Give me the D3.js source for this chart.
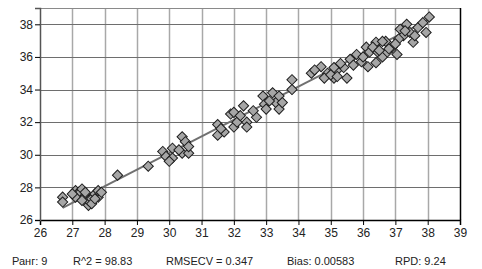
<!DOCTYPE html>
<html>
<head>
<meta charset="utf-8">
<script src="https://cdn.jsdelivr.net/npm/d3@7"></script>
<style>
  body { margin: 0; background: #fff; }
  svg { display: block; font-family: "Liberation Sans", Arial, sans-serif; }
</style>
</head>
<body>
<div id="chart"></div>
<script>
const measured = [
  26.7, 26.7, 27.1, 27.2, 27.2, 27.3, 27.1, 27.4, 27.5, 27.5, 27.6, 27.7, 27.8, 27.8, 27.9, 27.3, 27.0, 27.6, 27.4, 27.7,
  28.4, 29.35,
  29.8, 29.9, 30.1, 30.1, 30.4, 30.5, 30.4, 30.6, 30.6, 30.0, 30.3,
  31.5, 31.5, 31.7, 31.9, 32.0, 32.1, 32.0, 32.3, 32.4, 32.4, 32.7, 32.9, 32.95, 33.0, 33.2, 33.3, 33.4, 33.4, 33.5, 31.6, 32.2, 32.6, 33.1,
  33.8, 33.8, 34.4, 34.7, 34.9, 35.1, 35.2, 34.8, 34.5, 35.0,
  35.1, 35.2, 35.5, 35.4, 35.8, 35.95, 36.1, 36.2, 36.15, 36.4, 36.45, 36.6, 36.7, 36.75, 36.9, 37.05, 37.15, 37.25, 37.35, 37.45,
  37.55, 37.7, 37.85, 38.05, 37.95, 37.1, 36.6, 36.4, 36.0, 35.6, 35.7, 36.3, 36.8, 37.0, 37.3, 37.6, 35.3, 36.5
];
const predicted = [
  27.4, 27.1, 27.8, 27.7, 27.6, 27.9, 27.4, 27.5, 26.9, 27.2, 27.3, 27.6, 27.4, 27.8, 27.7, 27.2, 27.6, 27.0, 27.7, 27.3,
  28.75, 29.3,
  30.2, 29.9, 30.4, 29.8, 31.1, 30.8, 30.1, 30.1, 30.5, 29.6, 30.3,
  31.85, 31.2, 31.4, 32.5, 31.7, 32.0, 32.6, 33.0, 32.0, 31.7, 32.3, 33.6, 33.1, 32.8, 33.8, 33.2, 32.8, 33.6, 33.2, 31.6, 32.4, 32.7, 33.3,
  34.6, 34.0, 35.0, 35.4, 35.0, 34.7, 35.2, 34.7, 35.2, 34.9,
  35.35, 34.8, 34.7, 35.35, 36.15, 35.7, 36.6, 36.3, 35.4, 36.9, 36.3, 36.0, 36.95, 36.3, 36.6, 36.15, 37.7, 37.3, 38.0, 37.5,
  36.9, 37.8, 38.1, 38.45, 37.5, 37.1, 36.95, 35.65, 36.0, 35.85, 35.5, 36.6, 36.5, 36.8, 37.6, 37.3, 35.6, 36.4
];

// regression line end points
const lineX = [26.7, 38.0];
const lineY = [26.75, 38.25];

const xTicks = d3.range(26, 40, 1);
const yTicks = [26, 28, 30, 32, 34, 36, 38];

const stats = [
  { text: 'Ранг: 9', x: 12 },
  { text: 'R^2 = 98.83', x: 73 },
  { text: 'RMSECV = 0.347', x: 166 },
  { text: 'Bias: 0.00583', x: 287 },
  { text: 'RPD: 9.24', x: 395 }
];

const width = 482, height = 269;
const margin = { top: 8, right: 22, bottom: 49, left: 40 };
const innerW = width - margin.left - margin.right;
const innerH = height - margin.top - margin.bottom;

const svg = d3.select('#chart').append('svg')
    .attr('width', width)
    .attr('height', height);

const chart = svg.append('g')
    .attr('transform', `translate(${margin.left},${margin.top})`);

const x = d3.scaleLinear().domain([26, 39]).range([0, innerW]);
const y = d3.scaleLinear().domain([26, 39]).range([innerH, 0]);

// vertical grid
chart.selectAll('.vgrid')
    .data(xTicks.filter(d => d > 26 && d < 39))
  .join('line')
    .attr('class', 'vgrid')
    .attr('x1', d => Math.round(x(d)) + 0.5)
    .attr('x2', d => Math.round(x(d)) + 0.5)
    .attr('y1', 0)
    .attr('y2', innerH)
    .attr('stroke', '#a8a8a8')
    .attr('stroke-width', 1.5);

// horizontal grid
chart.selectAll('.hgrid')
    .data(yTicks.filter(d => d > 26))
  .join('line')
    .attr('class', 'hgrid')
    .attr('x1', 0)
    .attr('x2', innerW)
    .attr('y1', d => Math.round(y(d)) + 0.5)
    .attr('y2', d => Math.round(y(d)) + 0.5)
    .attr('stroke', '#6e6e6e')
    .attr('stroke-width', 1);

// top border
chart.append('line')
    .attr('x1', 0).attr('x2', innerW)
    .attr('y1', 0.5).attr('y2', 0.5)
    .attr('stroke', '#8a8a8a');

// right border
chart.append('line')
    .attr('x1', innerW + 0.5).attr('x2', innerW + 0.5)
    .attr('y1', 0).attr('y2', innerH)
    .attr('stroke', '#000')
    .attr('stroke-width', 1.5);

// axes
const xAxis = d3.axisBottom(x).tickValues(xTicks).tickSize(5).tickFormat(d3.format('d'));
const yAxis = d3.axisLeft(y).tickValues(yTicks).tickSize(5).tickFormat(d3.format('d'));

const gx = chart.append('g')
    .attr('transform', `translate(0,${innerH})`)
    .call(xAxis);
gx.select('.domain').attr('stroke', '#000').attr('stroke-width', 1.5);
gx.selectAll('.tick line').attr('stroke', '#000');
gx.selectAll('.tick text')
    .attr('font-size', 12)
    .attr('fill', '#222')
    .attr('y', 8);

const gy = chart.append('g').call(yAxis);
gy.select('.domain').attr('stroke', '#555').attr('stroke-width', 1.5);
gy.selectAll('.tick line').attr('stroke', '#000');
gy.selectAll('.tick text')
    .attr('font-size', 12)
    .attr('fill', '#222')
    .attr('x', -7);

// regression line
chart.append('line')
    .attr('x1', x(lineX[0])).attr('y1', y(lineY[0]))
    .attr('x2', x(lineX[1])).attr('y2', y(lineY[1]))
    .attr('stroke', '#707070')
    .attr('stroke-width', 2);

// diamond markers
const pts = measured.map((m, i) => ({ m, p: predicted[i] }));
const sym = d3.symbol().type(d3.symbolSquare).size(52);
chart.selectAll('.pt')
    .data(pts)
  .join('path')
    .attr('class', 'pt')
    .attr('d', sym)
    .attr('transform', d => `translate(${x(d.m)},${y(d.p)}) rotate(45)`)
    .attr('fill', '#a6a6a6')
    .attr('stroke', '#1e1e1e')
    .attr('stroke-width', 1);

// statistics line
svg.selectAll('.stat')
    .data(stats)
  .join('text')
    .attr('class', 'stat')
    .attr('x', d => d.x)
    .attr('y', 265)
    .attr('font-size', 11)
    .attr('fill', '#222')
    .text(d => d.text);
</script>
</body>
</html>
